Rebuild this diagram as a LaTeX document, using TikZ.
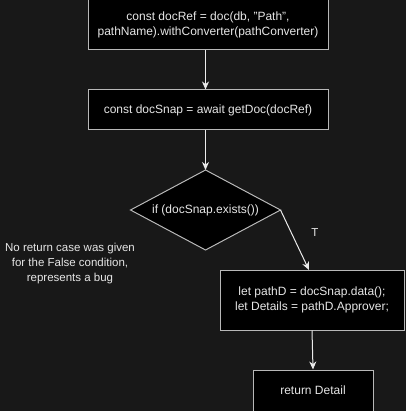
\documentclass[tikz,border=0pt]{standalone}
\usepackage{fontspec}
\setmainfont{Liberation Sans}
\usetikzlibrary{arrows.meta}
\definecolor{bgc}{HTML}{181818}
\definecolor{edgec}{HTML}{B8B8B8}
\definecolor{txtc}{HTML}{E6E6E6}
\begin{document}
\begin{tikzpicture}[x=1pt,y=-1pt,
  box/.style={draw=edgec,fill=black,line width=1pt,text=txtc,align=center,inner sep=0pt,
    font=\fontsize{12}{15.5}\selectfont},
  arr/.style={draw=white!92!black,line width=1pt,-{Stealth[length=8pt,width=7pt,inset=2.5pt]}},
  lbl/.style={text=txtc,align=center,font=\fontsize{11.5}{15}\selectfont}]
\fill[bgc] (0,0) rectangle (406,411);
\useasboundingbox (0,0) rectangle (406,411);
\clip (0,0) rectangle (406,411);
\node[box,minimum width=240pt,minimum height=50pt] (b1) at (208,25) {const docRef = doc(db, "Path",\\pathName).withConverter(pathConverter)};
\node[box,minimum width=240pt,minimum height=40pt] (b2) at (208,110) {const docSnap = await getDoc(docRef)};
\coordinate (dn) at (205.5,170);
\coordinate (de) at (280.5,210);
\coordinate (ds) at (205.5,250);
\coordinate (dw) at (130.5,210);
\filldraw[draw=edgec,fill=black,line width=1pt] (dn) -- (de) -- (ds) -- (dw) -- cycle;
\node[text=txtc,font=\fontsize{12}{15}\selectfont] (d) at (205.5,210) {if (docSnap.exists())};
\node[box,minimum width=184pt,minimum height=60pt] (b3) at (312,300) {let pathD = docSnap.data();\\ let Details = pathD.Approver;};
\node[box,minimum width=120pt,minimum height=60pt] (b4) at (313,400) {};
\node[lbl,font=\fontsize{12}{15}\selectfont] (t4) at (313,390) {return Detail};
\node[lbl] (note) at (70,264) {No return case was given\\for the False condition,\\represents a bug};
\node[lbl] (T) at (315,233) {T};
\draw[arr] (b1.south -| dn) -- (b2.north -| dn);
\draw[arr] (b2.south -| dn) -- (dn);
\coordinate (b3in) at (309,270);
\draw[arr] (de) -- (b3in);
\draw[arr] (b3.south) -- (b4.north);
\end{tikzpicture}
\end{document}
